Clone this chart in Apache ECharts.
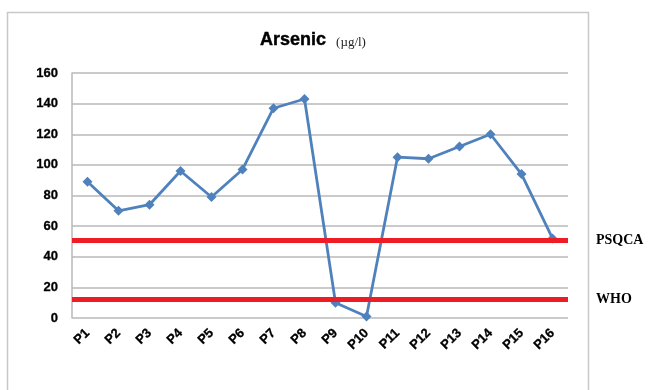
<!DOCTYPE html>
<html><head><meta charset="utf-8">
<script src="https://cdn.jsdelivr.net/npm/echarts@6/dist/echarts.min.js"></script>
<style>html,body{margin:0;padding:0;background:#fff}#c{width:652px;height:390px}</style>
</head><body><div id="c"></div>
<script>
var categories = ['P1','P2','P3','P4','P5','P6','P7','P8','P9','P10','P11','P12','P13','P14','P15','P16'];
var arsenic = [89,70,74,96,79,97,137,143,10,1,105,104,112,120,94,52];
var limits = [{name:'PSQCA', value:51},{name:'WHO', value:12}];
var yTicks = {min:0, max:160, interval:20};

var chart = echarts.init(document.getElementById('c'));
chart.setOption({
  animation:false,
  graphic:[{type:'rect',shape:{x:7.5,y:12.5,width:581,height:390},style:{fill:'none',stroke:'#c8c8c8',lineWidth:1.5},silent:true}],
  title:{
    text:'{a|Arsenic}  {b|(µg/l)}',
    left:308, top:26, textAlign:'center',
    textStyle:{rich:{
      a:{fontFamily:'Liberation Sans, Arial',fontWeight:'bold',fontSize:18,color:'#000',textBorderColor:'#000',textBorderWidth:0.4},
      b:{fontFamily:'Liberation Serif, Times New Roman',fontWeight:'normal',fontSize:13,color:'#222',padding:[5,0,0,0]}
    }}
  },
  grid:{left:72,right:84,top:73,bottom:72},
  xAxis:{type:'category',data:categories,boundaryGap:true,
    axisLine:{show:false},axisTick:{show:false},
    axisLabel:{rotate:45,fontFamily:'Liberation Sans, Arial',fontWeight:'bold',fontSize:13,color:'#000',margin:13,interval:0,textBorderColor:'#000',textBorderWidth:0.3}
  },
  yAxis:{type:'value',min:yTicks.min,max:yTicks.max,interval:yTicks.interval,
    axisLine:{show:true,lineStyle:{color:'#b8b8b8',width:1.5}},axisTick:{show:false},
    splitLine:{lineStyle:{color:'#b8b8b8',width:1.5}},
    axisLabel:{fontFamily:'Liberation Sans, Arial',fontWeight:'bold',fontSize:13,color:'#000',margin:14,textBorderColor:'#000',textBorderWidth:0.3}
  },
  series:[{
    type:'line',data:arsenic,symbol:'diamond',symbolSize:10,
    lineStyle:{color:'#4F81BD',width:2.8},itemStyle:{color:'#4F81BD'},
    markLine:{silent:true,symbol:'none',
      lineStyle:{color:'#ee1c25',width:5,type:'solid'},
      label:{position:'end',distance:28,formatter:'{b}',fontFamily:'Liberation Serif, Times New Roman',fontWeight:'bold',fontSize:14,color:'#000'},
      data:limits.map(function(l){return {name:l.name,yAxis:l.value};})
    }
  }]
});
</script></body></html>
